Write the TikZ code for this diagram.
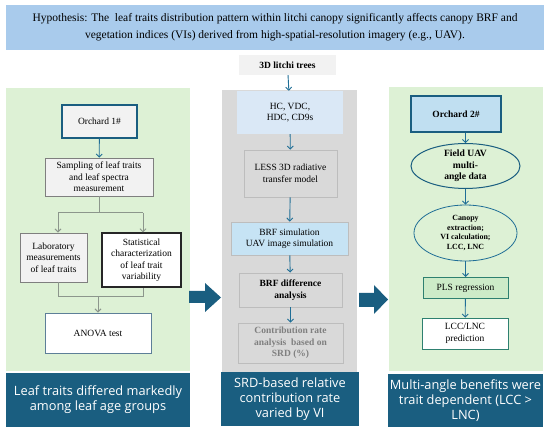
\documentclass[tikz,border=0pt]{standalone}
\usepackage{fontspec}
\setmainfont{Liberation Serif}
\newfontfamily\boxsans{Open Sans}
\usetikzlibrary{shapes.geometric,arrows.meta}
\definecolor{hypblue}{HTML}{A9CBEC}
\definecolor{panelgreen}{HTML}{DDF1D5}
\definecolor{panelgray}{HTML}{D9D9D9}
\definecolor{darkblue}{HTML}{1A5E80}
\definecolor{arrowblue}{HTML}{1F6E96}
\definecolor{linegray}{HTML}{8C968C}
\definecolor{boxgray}{HTML}{F2F2F2}
\definecolor{lightblue}{HTML}{DAE8F6}
\definecolor{simblue}{HTML}{C6E3F4}
\definecolor{orchblue}{HTML}{C0DFF1}
\definecolor{plsgreen}{HTML}{CDEBC8}
\definecolor{plsborder}{HTML}{2E8070}
\definecolor{grayborder}{HTML}{BDBDBD}
\definecolor{midgray}{HTML}{7F7F7F}
\definecolor{anovaborder}{HTML}{5D7F98}
\begin{document}
\begin{tikzpicture}[x=1pt,y=-1pt,
  box/.style={rectangle, align=center, inner sep=1pt, text=black,
    font=\fontsize{9.5}{11.5}\selectfont},
  bbox/.style={box, font=\bfseries\fontsize{9.5}{11.5}\selectfont},
  darkbox/.style={rectangle, fill=darkblue, text=white, align=center, inner sep=0pt,
    font=\boxsans\fontsize{12.8}{14.8}\selectfont},
  barr/.style={draw=arrowblue, line width=0.9pt, -{Straight Barb[length=3pt,width=6pt]}},
  gline/.style={draw=linegray, line width=1pt},
  garr/.style={gline, -{Straight Barb[length=3pt,width=6pt]}},
  bigarrow/.style={fill=darkblue}
]
\useasboundingbox (0,0) rectangle (550,433);
\fill[white] (0,0) rectangle (550,433);

% hypothesis
\node[rectangle, fill=hypblue, minimum width=538pt, minimum height=45pt, align=center,
  inner sep=0pt, font=\fontsize{11.5}{17}\selectfont] (hyp) at (275,27.5)
  {Hypothesis: The~ leaf traits distribution pattern within litchi canopy significantly affects canopy BRF and\\
   vegetation indices (VIs) derived from high-spatial-resolution imagery (e.g., UAV).};

% panels
\fill[panelgreen] (6,88) rectangle (190,371);
\fill[panelgray] (222,90) rectangle (357,372);
\fill[panelgreen] (389,87) rectangle (543,371);

% big arrows
\fill[bigarrow] (189,291) -- (205,291) -- (205,283) -- (221,297.5) -- (205,312) -- (205,303) -- (189,303) -- cycle;
\fill[bigarrow] (359,293) -- (374,293) -- (374,285) -- (388,299.5) -- (374,314) -- (374,307) -- (359,307) -- cycle;

% dark result boxes
\node[darkbox, minimum width=184pt, minimum height=54pt] (res1) at (98,400)
  {Leaf traits differed markedly\\among leaf age groups};
\node[darkbox, minimum width=138pt, minimum height=54pt] (res2) at (290,399)
  {SRD-based relative\\contribution rate\\varied by VI};
\node[darkbox, minimum width=155pt, minimum height=53pt] (res3) at (465.5,400.5)
  {Multi-angle benefits were\\trait dependent (LCC >\\LNC)};

% left column
\node[box, draw=darkblue, line width=1.3pt, fill=boxgray, minimum width=75pt, minimum height=33pt] (orch1) at (99.5,121.5) {Orchard 1\#};
\node[box, draw=midgray, line width=0.8pt, fill=boxgray, minimum width=108pt, minimum height=38pt] (samp) at (99,177)
  {Sampling of leaf traits\\and leaf spectra\\measurement};
\node[box, draw=midgray, line width=0.8pt, fill=boxgray, minimum width=67pt, minimum height=49pt] (lab) at (53.5,257.5)
  {Laboratory\\measurements\\of leaf traits};
\node[box, draw=black!85, line width=1.1pt, fill=white, minimum width=79pt, minimum height=54pt] (stat) at (141.5,260)
  {Statistical\\characterization\\of leaf trait\\variability};
\node[box, draw=anovaborder, line width=0.9pt, fill=white, minimum width=106pt, minimum height=40pt] (anova) at (98,333) {ANOVA test};

\coordinate (j0) at (99,213);
\coordinate (jL) at (58,213);
\coordinate (jR) at (143,213);
\coordinate (kL) at (58,297);
\coordinate (kR) at (143,297);
\coordinate (kM) at (98,297);

\draw[barr] (orch1) -- (samp);
\draw[gline] (samp.south) -- (j0);
\draw[gline] (jL) -- (jR);
\draw[garr] (jL) -- (jL |- lab.north);
\draw[garr] (jR) -- (jR |- stat.north);
\draw[gline] (jL |- lab.south) -- (kL) -- (kR) -- (kR |- stat.south);
\draw[garr] (kM) -- (anova.north);

% middle column
\node[bbox, fill=boxgray, minimum width=97pt, minimum height=20pt] (tree) at (287.5,65) {3D litchi trees};
\node[box, fill=lightblue, minimum width=106pt, minimum height=43pt] (hc) at (290,112.5) {HC, VDC,\\HDC, CD9s};
\node[box, draw=grayborder, line width=0.8pt, fill=panelgray, minimum width=93pt, minimum height=47pt] (less) at (290.5,173.5)
  {LESS 3D radiative\\transfer model};
\node[box, draw=grayborder, line width=0.8pt, fill=simblue, minimum width=117pt, minimum height=33pt] (sim) at (289.5,238.5)
  {BRF simulation\\UAV image simulation};
\node[bbox, draw=grayborder, line width=0.8pt, fill=panelgray, minimum width=103pt, minimum height=34pt] (diff) at (290.5,290)
  {BRF difference\\analysis};
\node[bbox, draw=grayborder, line width=0.8pt, fill=panelgray, text=midgray, minimum width=105pt, minimum height=40pt] (contrib) at (290.5,343)
  {Contribution rate\\analysis~ based on\\SRD (\%)};

\draw[barr] (tree) -- (hc);
\draw[barr] (hc) -- (less);
\draw[barr] (less) -- (sim);
\draw[barr] (sim) -- (diff);
\draw[barr] (diff) -- (contrib);

% right column
\node[bbox, draw=darkblue, line width=1.3pt, fill=orchblue, minimum width=90pt, minimum height=36pt] (orch2) at (456,114) {Orchard 2\#};
\node[ellipse, draw=darkblue, line width=1pt, fill=panelgreen, inner sep=0pt, minimum width=109pt, minimum height=42pt,
  align=center, font=\bfseries\fontsize{9.6}{11.5}\selectfont] (ell1) at (465.5,166) {Field UAV\\multi-\\angle data};
\node[ellipse, draw=arrowblue, line width=0.8pt, fill=panelgreen, inner sep=0pt, minimum width=103pt, minimum height=56pt,
  align=center, font=\bfseries\fontsize{7.9}{9.8}\selectfont] (ell2) at (465.5,233) {Canopy\\extraction;\\VI calculation;\\LCC, LNC};
\node[box, draw=plsborder, line width=1pt, fill=plsgreen, minimum width=85pt, minimum height=21pt] (pls) at (465.5,288) {PLS regression};
\node[box, draw=plsborder, line width=0.8pt, fill=white, minimum width=86pt, minimum height=31pt] (lcc) at (465,333.5) {LCC/LNC\\prediction};

\draw[barr] (orch2.south -| ell1.north) -- (ell1.north);
\draw[barr] (ell1) -- (ell2);
\draw[barr] (ell2) -- (pls);
\draw[barr] (pls) -- (lcc);
\end{tikzpicture}
\end{document}
